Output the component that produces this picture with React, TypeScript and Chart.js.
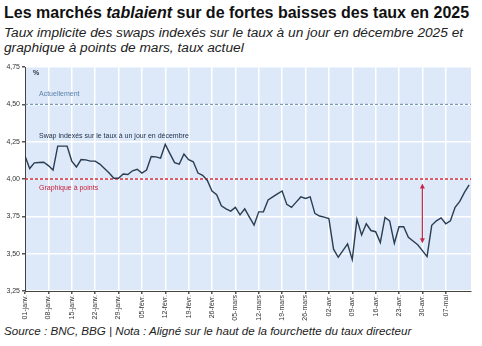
import React, { useEffect, useRef } from "react";
import { Chart, registerables } from "chart.js";

Chart.register(...registerables);

// Weekly tick labels (every 5 business days from 01-janv.)
const tickLabels = [
  "01-janv.", "08-janv.", "15-janv.", "22-janv.", "29-janv.",
  "05-févr.", "12-févr.", "19-févr.", "26-févr.",
  "05-mars", "12-mars", "19-mars", "26-mars",
  "02-avr.", "09-avr.", "16-avr.", "23-avr.", "30-avr.", "07-mai",
];

// OIS implied rate for December 2025, one value per business day
const swapValues = [
  4.154, 4.07, 4.108, 4.11, 4.112, 4.09, 4.06, 4.22, 4.22, 4.22,
  4.12, 4.08, 4.13, 4.128, 4.12, 4.12, 4.10, 4.07, 4.04, 4.005,
  4.005, 4.033, 4.03, 4.055, 4.065, 4.04, 4.06, 4.15, 4.148, 4.14,
  4.232, 4.17, 4.11, 4.10, 4.167, 4.13, 4.115, 4.04, 4.025, 3.99,
  3.92, 3.895, 3.82, 3.80, 3.785, 3.81, 3.76, 3.80, 3.745, 3.692,
  3.78, 3.78, 3.86, 3.88, 3.90, 3.92, 3.83, 3.81, 3.845, 3.88,
  3.87, 3.88, 3.77, 3.752, 3.745, 3.735, 3.53, 3.476, 3.52, 3.565,
  3.46, 3.73, 3.625, 3.70, 3.655, 3.647, 3.574, 3.743, 3.72, 3.57,
  3.68, 3.68, 3.61, 3.585, 3.56, 3.52, 3.48, 3.69, 3.72, 3.74,
  3.70, 3.72, 3.81, 3.85, 3.91, 3.96,
];

const yTicks = [3.25, 3.5, 3.75, 4.0, 4.25, 4.5, 4.75];
const currentRate = 4.5; // Actuellement
const dotPlotRate = 4.0; // Graphique à points
const arrowIndex = 85; // 30-avr.
const arrowFrom = 3.57;
const arrowTo = 3.97;
const xEnd = 95.4;

const FONT = '"Liberation Sans", Arial, sans-serif';

const annotationPlugin = {
  id: "annotations",
  afterDatasetsDraw(chart: any) {
    const { ctx, chartArea, scales } = chart;
    const x = scales.x;
    const y = scales.y;
    ctx.save();
    ctx.textBaseline = "middle";
    ctx.textAlign = "left";

    ctx.font = `bold 7px ${FONT}`;
    ctx.fillStyle = "#1f2d3d";
    ctx.fillText("%", chartArea.left + 8, chartArea.top + 6);

    ctx.font = `7px ${FONT}`;
    ctx.fillStyle = "#5b82ad";
    ctx.fillText("Actuellement", chartArea.left + 14, y.getPixelForValue(currentRate) - 10);

    ctx.fillStyle = "#1c2e48";
    ctx.fillText(
      "Swap indexés sur le taux à un jour en décembre",
      chartArea.left + 14,
      y.getPixelForValue(4.29)
    );

    ctx.fillStyle = "#c8203a";
    ctx.fillText("Graphique à points", chartArea.left + 14, y.getPixelForValue(dotPlotRate) + 9);

    // double-headed arrow
    const ax = x.getPixelForValue(arrowIndex);
    const y1 = y.getPixelForValue(arrowTo);
    const y2 = y.getPixelForValue(arrowFrom);
    ctx.strokeStyle = "#c42a4c";
    ctx.fillStyle = "#c42a4c";
    ctx.lineWidth = 1.2;
    ctx.beginPath();
    ctx.moveTo(ax, y1 + 3);
    ctx.lineTo(ax, y2 - 3);
    ctx.stroke();
    ctx.beginPath();
    ctx.moveTo(ax, y1);
    ctx.lineTo(ax - 2.5, y1 + 5);
    ctx.lineTo(ax + 2.5, y1 + 5);
    ctx.closePath();
    ctx.fill();
    ctx.beginPath();
    ctx.moveTo(ax, y2);
    ctx.lineTo(ax - 2.5, y2 - 5);
    ctx.lineTo(ax + 2.5, y2 - 5);
    ctx.closePath();
    ctx.fill();
    ctx.restore();
  },
};

const bgPlugin = {
  id: "plotBg",
  beforeDraw(chart: any) {
    const { ctx, chartArea } = chart;
    ctx.save();
    ctx.fillStyle = "#dde9f8";
    ctx.fillRect(chartArea.left, chartArea.top, chartArea.right - chartArea.left, chartArea.bottom - chartArea.top);
    ctx.restore();
  },
};

export default function App() {
  const canvasRef = useRef<HTMLCanvasElement | null>(null);

  useEffect(() => {
    const canvas = canvasRef.current;
    if (!canvas) return;
    const chart = new Chart(canvas, {
      type: "line",
      data: {
        datasets: [
          {
            data: swapValues.map((v, i) => ({ x: i, y: v })),
            borderColor: "#2a3d52",
            borderWidth: 1.4,
            pointRadius: 0,
            tension: 0,
            order: 1,
          },
          {
            data: [{ x: 0, y: currentRate }, { x: xEnd, y: currentRate }],
            borderColor: "#5f86b0",
            borderWidth: 1,
            borderDash: [3, 2],
            pointRadius: 0,
            order: 2,
          },
          {
            data: [{ x: 0, y: dotPlotRate }, { x: xEnd, y: dotPlotRate }],
            borderColor: "#d42a3a",
            borderWidth: 1.5,
            borderDash: [3, 2],
            pointRadius: 0,
            order: 2,
          },
        ],
      },
      options: {
        animation: false,
        responsive: false,
        layout: { padding: { top: 9, right: 11, left: 0, bottom: 0 } },
        plugins: { legend: { display: false }, tooltip: { enabled: false } },
        scales: {
          x: {
            type: "linear",
            min: 0,
            max: xEnd,
            afterBuildTicks: (scale: any) => {
              scale.ticks = tickLabels.map((_, i) => ({ value: i * 5 }));
            },
            afterFit: (scale: any) => {
              scale.height = 31;
            },
            grid: { color: "#ffffff", lineWidth: 1.5, tickColor: "#555", tickLength: 3 },
            border: { color: "#444", width: 1 },
            ticks: {
              autoSkip: false,
              minRotation: 90,
              maxRotation: 90,
              padding: 1,
              color: "#333",
              font: { family: FONT, size: 7 },
              callback: (v: any) => tickLabels[Math.round(Number(v) / 5)] ?? "",
            },
          },
          y: {
            min: 3.25,
            max: 4.75,
            afterBuildTicks: (scale: any) => {
              scale.ticks = yTicks.map((v) => ({ value: v }));
            },
            afterFit: (scale: any) => {
              scale.width = 25;
            },
            grid: { color: "#ffffff", lineWidth: 1.5, tickColor: "#555", tickLength: 3 },
            border: { color: "#444", width: 1 },
            ticks: {
              padding: 2,
              color: "#333",
              font: { family: FONT, size: 7 },
              callback: (v: any) => Number(v).toFixed(2).replace(".", ","),
            },
          },
        },
      },
      plugins: [bgPlugin, annotationPlugin],
    } as any);
    return () => chart.destroy();
  }, []);

  return (
    <div style={{ position: "absolute", left: 0, top: 0, width: 482, height: 346, background: "#fff", fontFamily: FONT, color: "#111" }}>
      <div style={{ position: "absolute", left: 4, top: 4, fontSize: 16, lineHeight: "18px", fontWeight: "bold", whiteSpace: "nowrap" }}>
        Les marchés <i>tablaient</i> sur de fortes baisses des taux en 2025
      </div>
      <div style={{ position: "absolute", left: 4, top: 25, fontSize: 13.7, lineHeight: "15px", fontStyle: "italic", color: "#222", whiteSpace: "nowrap" }}>
        Taux implicite des swaps indexés sur le taux à un jour en décembre 2025 et
        <br />
        graphique à points de mars, taux actuel
      </div>
      <canvas ref={canvasRef} width={482} height={264} style={{ position: "absolute", left: 0, top: 58, width: 482, height: 264 }} />
      <div style={{ position: "absolute", left: 4, top: 324, fontSize: 11.6, lineHeight: "14px", fontStyle: "italic", color: "#222", whiteSpace: "nowrap" }}>
        Source : BNC, BBG | Nota : Aligné sur le haut de la fourchette du taux directeur
      </div>
    </div>
  );
}
